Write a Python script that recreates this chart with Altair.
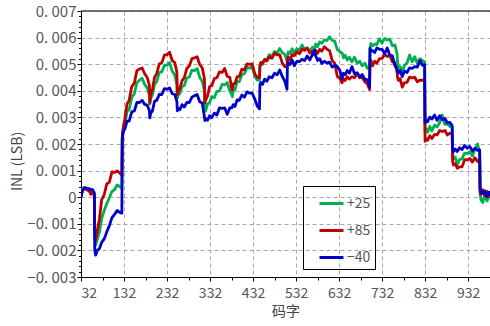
import altair as alt
import pandas as pd

# Code positions (shared by all three temperature curves)
codes = [
    32, 35, 39, 43, 47, 51, 55, 59, 63,
    64, 66, 70, 75, 80, 86, 92, 98, 104, 110, 116, 122, 127,
    128, 130, 134, 139, 144, 150, 156, 162, 168, 174, 180, 186, 191,
    192, 194, 198, 203, 208, 214, 220, 226, 232, 238, 244, 250, 255,
    256, 258, 262, 267, 272, 278, 284, 290, 296, 302, 308, 314, 319,
    320, 322, 326, 331, 336, 342, 348, 354, 360, 366, 372, 378, 383,
    384, 386, 390, 395, 400, 406, 412, 418, 424, 430, 436, 442, 447,
    448, 450, 454, 459, 464, 470, 476, 482, 488, 494, 500, 506, 511,
    512, 514, 518, 523, 528, 534, 540, 546, 552, 558, 564, 570, 575,
    576, 578, 582, 587, 592, 598, 604, 610, 616, 622, 628, 634, 639,
    640, 642, 646, 651, 656, 662, 668, 674, 680, 686, 692, 698, 703,
    704, 706, 710, 715, 720, 726, 732, 738, 744, 750, 756, 762, 767,
    768, 770, 774, 779, 784, 790, 796, 802, 808, 814, 820, 826, 831,
    832, 834, 838, 843, 848, 854, 860, 866, 872, 878, 884, 890, 895,
    896, 898, 902, 907, 912, 918, 924, 930, 936, 942, 948, 954, 959,
    960, 962, 966, 971, 976, 981, 986, 990,
]

# INL values in units of 1e-3 LSB
inl_p25 = [
    0.00, 0.30, 0.30, 0.36, 0.28, 0.33, 0.24, 0.25, 0.10,
    -1.55, -1.80, -1.58, -1.30, -0.80, -0.50, -0.24, -0.02, 0.22, 0.28, 0.46, 0.40, 0.33,
    2.25, 2.52, 2.74, 3.22, 3.30, 3.76, 3.88, 4.31, 4.40, 4.47, 4.24, 4.10, 3.84,
    3.50, 3.72, 3.84, 4.26, 4.34, 4.68, 4.72, 4.96, 4.96, 5.06, 4.74, 4.60, 4.22,
    3.72, 3.84, 3.90, 4.16, 4.19, 4.48, 4.52, 4.78, 4.76, 4.84, 4.50, 4.36, 4.00,
    3.30, 3.24, 3.50, 3.56, 3.78, 3.74, 3.98, 3.99, 4.24, 4.22, 4.31, 4.00, 3.84,
    3.78, 4.00, 4.03, 4.36, 4.34, 4.61, 4.64, 4.88, 4.85, 4.91, 4.55, 4.40, 4.40,
    4.95, 5.06, 4.99, 5.18, 5.16, 5.36, 5.29, 5.48, 5.42, 5.59, 5.44, 5.36, 5.12,
    5.30, 5.46, 5.41, 5.58, 5.42, 5.58, 5.54, 5.72, 5.56, 5.61, 5.48, 5.64, 5.55,
    5.65, 5.76, 5.66, 5.84, 5.79, 5.91, 5.89, 6.03, 5.90, 5.86, 5.55, 5.47, 5.42,
    5.40, 5.24, 5.34, 5.16, 5.26, 5.09, 5.26, 5.04, 5.11, 4.94, 5.04, 4.84, 4.85,
    5.60, 5.78, 5.69, 5.76, 5.74, 5.96, 5.79, 5.97, 5.91, 5.94, 5.69, 5.72, 5.40,
    5.10, 4.89, 4.91, 4.69, 4.96, 5.04, 5.35, 5.09, 5.28, 5.03, 5.21, 5.14, 5.08,
    2.45, 2.59, 2.44, 2.66, 2.49, 2.71, 2.64, 2.81, 3.09, 2.74, 2.76, 2.66, 2.72,
    1.60, 1.44, 1.51, 1.22, 1.41, 1.44, 1.66, 1.64, 1.71, 1.55, 1.80, 2.00, 1.68,
    0.10, -0.10, -0.20, 0.08, -0.14, 0.04, 0.05, -0.05,
]

inl_p85 = [
    0.00, 0.22, 0.30, 0.31, 0.26, 0.24, 0.11, 0.22, 0.06,
    -1.35, -1.62, -1.26, -0.80, -0.10, 0.10, 0.50, 0.57, 0.95, 0.93, 0.99, 0.91, 0.82,
    2.30, 2.61, 2.94, 3.51, 3.64, 4.16, 4.29, 4.76, 4.82, 4.86, 4.64, 4.50, 4.20,
    3.55, 3.86, 4.04, 4.51, 4.64, 5.01, 5.06, 5.34, 5.36, 5.45, 5.14, 5.06, 4.70,
    3.85, 3.96, 4.09, 4.38, 4.49, 4.84, 4.94, 5.21, 5.24, 5.28, 4.99, 4.86, 4.45,
    3.55, 3.66, 3.79, 4.16, 4.19, 4.46, 4.49, 4.71, 4.69, 4.84, 4.54, 4.51, 4.04,
    4.05, 4.26, 4.28, 4.53, 4.54, 4.81, 4.79, 5.01, 4.99, 5.01, 4.64, 4.50, 4.50,
    4.90, 5.06, 5.03, 5.18, 5.12, 5.28, 5.22, 5.41, 5.35, 5.36, 5.04, 4.91, 4.90,
    5.16, 5.26, 5.16, 5.36, 5.32, 5.47, 5.39, 5.56, 5.52, 5.61, 5.42, 5.48, 5.34,
    5.40, 5.51, 5.41, 5.56, 5.49, 5.66, 5.56, 5.51, 5.14, 5.03, 4.54, 4.46, 4.30,
    4.35, 4.46, 4.39, 4.53, 4.44, 4.53, 4.49, 4.66, 4.49, 4.51, 4.34, 4.26, 4.05,
    5.05, 5.15, 4.94, 5.11, 5.04, 5.21, 5.22, 5.36, 5.29, 5.34, 5.09, 5.06, 4.70,
    4.50, 4.39, 4.46, 4.14, 4.31, 4.32, 4.51, 4.49, 4.51, 4.34, 4.40, 4.39, 4.44,
    2.10, 2.21, 2.14, 2.31, 2.21, 2.36, 2.34, 2.51, 2.47, 2.51, 2.34, 2.41, 2.36,
    1.35, 1.21, 1.26, 1.09, 1.14, 1.14, 1.41, 1.40, 1.46, 1.32, 1.48, 1.34, 1.42,
    0.20, 0.10, 0.28, 0.06, 0.22, 0.02, 0.15, 0.06,
]

inl_m40 = [
    0.00, 0.26, 0.36, 0.35, 0.32, 0.31, 0.29, 0.28, 0.16,
    -2.00, -2.18, -2.00, -1.93, -1.70, -1.57, -1.30, -1.07, -0.77, -0.65, -0.50, -0.57, -0.60,
    2.20, 2.46, 2.56, 2.86, 2.86, 3.21, 3.24, 3.56, 3.56, 3.64, 3.49, 3.46, 3.26,
    2.98, 3.16, 3.24, 3.61, 3.64, 3.86, 3.86, 4.08, 4.06, 4.11, 3.89, 3.86, 3.60,
    3.25, 3.34, 3.29, 3.48, 3.39, 3.56, 3.56, 3.76, 3.82, 3.86, 3.59, 3.54, 3.02,
    2.88, 2.96, 2.89, 3.06, 2.99, 3.16, 3.09, 3.36, 3.34, 3.36, 3.12, 3.36, 3.36,
    3.40, 3.48, 3.41, 3.66, 3.64, 3.84, 3.76, 3.96, 3.91, 3.91, 3.69, 3.42, 3.32,
    4.22, 4.31, 4.24, 4.44, 4.36, 4.53, 4.49, 4.66, 4.60, 4.78, 4.54, 4.36, 4.06,
    4.97, 5.06, 4.99, 5.16, 4.94, 5.11, 5.10, 5.18, 5.14, 5.31, 5.16, 5.36, 5.53,
    5.45, 5.31, 5.14, 5.21, 5.03, 5.11, 5.04, 5.08, 4.89, 4.96, 4.91, 4.76, 4.44,
    4.55, 4.66, 4.60, 4.76, 4.66, 4.91, 4.64, 4.68, 4.53, 4.61, 4.44, 4.41, 4.14,
    5.60, 5.49, 5.51, 5.44, 5.61, 5.56, 5.56, 5.39, 5.61, 5.34, 5.31, 4.94, 4.84,
    4.75, 4.66, 4.76, 4.54, 4.74, 4.69, 4.86, 4.84, 4.91, 4.89, 5.14, 4.96, 4.98,
    2.80, 2.90, 2.84, 3.01, 2.94, 3.09, 2.89, 3.06, 2.91, 2.96, 2.79, 2.81, 2.66,
    1.80, 1.71, 1.81, 1.72, 1.86, 1.79, 1.94, 1.84, 1.91, 1.74, 1.84, 1.76, 1.78,
    0.30, 0.20, 0.14, 0.24, 0.02, 0.19, 0.06, 0.08,
]

series_names = ["+25", "+85", "\u221240"]
series_colors = ["#00B050", "#C00000", "#0000CD"]

x_major = [32, 132, 232, 332, 432, 532, 632, 732, 832, 932]
x_minor = [82, 182, 282, 382, 482, 582, 682, 782, 882, 982]
y_major = [-0.003, -0.002, -0.001, 0.0, 0.001, 0.002, 0.003, 0.004, 0.005, 0.006, 0.007]
y_minor = [round(v + k * 0.0002, 4) for v in y_major[:-1] for k in range(1, 5)]

rows = []
for name, vals in zip(series_names, [inl_p25, inl_p85, inl_m40]):
    for c, v in zip(codes, vals):
        rows.append({"code": c, "inl": v * 1e-3, "temp": name})
df = pd.DataFrame(rows)

FONT = "Noto Sans CJK SC"
MINOR_X = "(datum.value - 32) % 100 != 0"
MINOR_Y = "abs(datum.value * 1000 - round(datum.value * 1000)) > 0.01"

x_axis = alt.Axis(
    values=x_major + x_minor,
    title="码字",
    labelExpr=f"{MINOR_X} ? '' : datum.label",
    tickSize={"condition": {"test": MINOR_X, "value": 3}, "value": 4},
    gridOpacity={"condition": {"test": MINOR_X, "value": 0}, "value": 1},
    labelPadding=5,
    titlePadding=4,
)

y_axis = alt.Axis(
    values=y_major + y_minor,
    title="INL (LSB)",
    labelExpr=(
        f"{MINOR_Y} ? '' : (abs(datum.value) < 1e-9 ? '0' : "
        "replace(format(datum.value, '.3f'), '.', '. '))"
    ),
    labelFontSize=15,
    tickSize={"condition": {"test": MINOR_Y, "value": 2.5}, "value": 4},
    gridOpacity={"condition": {"test": MINOR_Y, "value": 0}, "value": 1},
    labelPadding=1,
    titleX=-64,
    titleY=150,
    titleBaseline="middle",
    titleAlign="center",
)

lines = (
    alt.Chart(df)
    .mark_line(strokeWidth=2.8, clip=True, strokeJoin="round")
    .encode(
        x=alt.X("code:Q", scale=alt.Scale(domain=[32, 983], nice=False, zero=False), axis=x_axis),
        y=alt.Y("inl:Q", scale=alt.Scale(domain=[-0.003, 0.007], nice=False), axis=y_axis),
        color=alt.Color(
            "temp:N",
            scale=alt.Scale(domain=series_names, range=series_colors),
            legend=alt.Legend(
                title=None,
                orient="none",
                legendX=222,
                legendY=175,
                direction="vertical",
                strokeColor="#000000",
                padding=4,
                symbolType="stroke",
                symbolStrokeWidth=3,
                symbolSize=576,
                symbolOffset=11,
                rowPadding=6,
                labelFontSize=14,
                labelFont=FONT,
                labelColor="#555555",
                labelOffset=2,
            ),
        ),
        order=alt.Order("code:Q"),
    )
)

top_border = (
    alt.Chart(pd.DataFrame({"edge": [0]}))
    .mark_rule(color="#444444", strokeWidth=1.3)
    .encode(y=alt.value(0))
)

chart = (
    alt.layer(lines, top_border)
    .properties(
        width=409,
        height=266,
        autosize=alt.AutoSizeParams(type="none"),
        padding={"left": 81, "top": 11, "right": 0, "bottom": 49},
        background="white",
    )
    .configure_view(stroke=None)
    .configure_axis(
        labelFont=FONT,
        labelFontSize=14,
        labelColor="#555555",
        titleFont=FONT,
        titleFontSize=14,
        titleColor="#444444",
        titleFontWeight="normal",
        domainColor="#000000",
        domainWidth=1,
        tickColor="#000000",
        gridColor="#a8a8a8",
        gridDash=[4, 3],
        gridWidth=1,
    )
)

chart.save("out.html", embed_options={"renderer": "svg", "actions": False})
